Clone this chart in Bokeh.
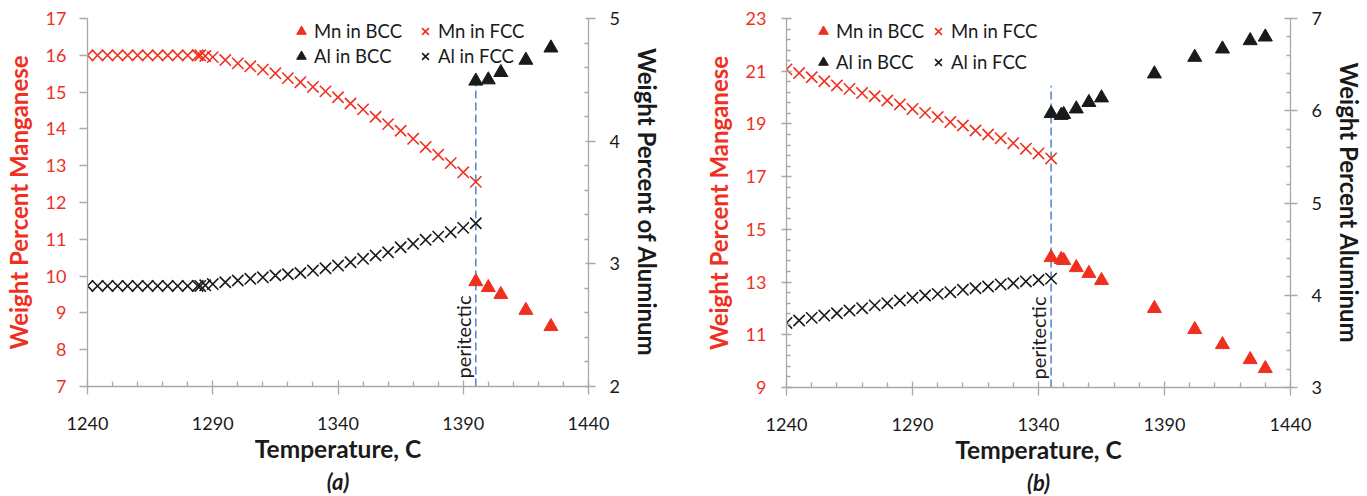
import math
from bokeh.plotting import figure
from bokeh.models import Range1d, LinearAxis, FixedTicker, Legend, LegendItem, Title
from bokeh.layouts import row
from bokeh.embed import file_html
from bokeh.resources import INLINE
from bokeh.core.properties import value

# ---------------- data : panel (a) ----------------
temp_fcc_a = [1240, 1244, 1248, 1252, 1256, 1260, 1264, 1268, 1272, 1276, 1280, 1284,
              1285, 1287, 1290, 1295, 1300, 1305, 1310, 1315, 1320, 1325, 1330, 1335,
              1340, 1345, 1350, 1355, 1360, 1365, 1370, 1375, 1380, 1385, 1390, 1395]
mn_fcc_a = [16.0, 16.0, 16.0, 16.0, 16.0, 16.0, 16.0, 16.0, 16.0, 16.0, 16.0, 16.0,
            16.0, 15.98, 15.95, 15.87, 15.78, 15.70, 15.61, 15.51, 15.38, 15.27, 15.14, 15.02,
            14.86, 14.69, 14.53, 14.33, 14.13, 13.95, 13.73, 13.51, 13.30, 13.07, 12.82, 12.56]
al_fcc_a = [2.82, 2.82, 2.82, 2.82, 2.82, 2.82, 2.82, 2.82, 2.82, 2.82, 2.82, 2.82,
            2.82, 2.825, 2.835, 2.85, 2.864, 2.878, 2.89, 2.905, 2.915, 2.925, 2.945, 2.964,
            2.986, 3.013, 3.041, 3.068, 3.094, 3.135, 3.163, 3.196, 3.222, 3.258, 3.293, 3.331]
temp_bcc_a = [1395, 1400, 1405, 1415, 1425]
mn_bcc_a = [9.85, 9.69, 9.50, 9.07, 8.63]
al_bcc_a = [4.49, 4.50, 4.56, 4.66, 4.76]
peritectic_a = 1395
peritectic_top_a = 4.49

# ---------------- data : panel (b) ----------------
temp_fcc_b = [1240, 1245, 1250, 1255, 1260, 1265, 1270, 1275, 1280, 1285, 1290,
              1295, 1300, 1305, 1310, 1315, 1320, 1325, 1330, 1335, 1340, 1345]
mn_fcc_b = [21.07, 20.93, 20.77, 20.62, 20.46, 20.33, 20.17, 20.05, 19.89, 19.74, 19.57,
            19.42, 19.26, 19.07, 18.94, 18.75, 18.60, 18.46, 18.27, 18.06, 17.88, 17.69]
al_fcc_b = [3.70, 3.726, 3.755, 3.78, 3.805, 3.835, 3.86, 3.89, 3.914, 3.943, 3.972,
            3.997, 4.015, 4.033, 4.059, 4.076, 4.095, 4.117, 4.13, 4.15, 4.165, 4.18]
temp_bcc_b = [1345, 1349, 1350, 1355, 1360, 1365, 1386, 1402, 1413, 1424, 1430]
mn_bcc_b = [13.93, 13.86, 13.82, 13.55, 13.33, 13.06, 12.0, 11.2, 10.63, 10.06, 9.72]
al_bcc_b = [5.97, 5.95, 5.96, 6.02, 6.09, 6.14, 6.40, 6.58, 6.67, 6.76, 6.80]
peritectic_b = 1345
peritectic_top_b = 6.27

# ---------------- axes ----------------
x_ticks = [1240, 1290, 1340, 1390, 1440]
x_minor = [1250, 1260, 1270, 1280, 1300, 1310, 1320, 1330, 1350, 1360, 1370, 1380,
           1400, 1410, 1420, 1430]
mn_ticks_a = [7, 8, 9, 10, 11, 12, 13, 14, 15, 16, 17]
al_ticks_a = [2, 3, 4, 5]
al_minor_a = [2.2, 2.4, 2.6, 2.8, 3.2, 3.4, 3.6, 3.8, 4.2, 4.4, 4.6, 4.8]
mn_ticks_b = [9, 11, 13, 15, 17, 19, 21, 23]
mn_minor_b = [9.4, 9.8, 10.2, 10.6, 11.4, 11.8, 12.2, 12.6, 13.4, 13.8, 14.2, 14.6,
              15.4, 15.8, 16.2, 16.6, 17.4, 17.8, 18.2, 18.6, 19.4, 19.8, 20.2, 20.6,
              21.4, 21.8, 22.2, 22.6]
al_ticks_b = [3, 4, 5, 6, 7]
al_minor_b = [3.2, 3.4, 3.6, 3.8, 4.2, 4.4, 4.6, 4.8, 5.2, 5.4, 5.6, 5.8, 6.2, 6.4, 6.6, 6.8]

FONT = "Lato"
RED = "#f0301f"
BLACK = "#1a1a1a"
GRAY = "#a8a8a8"
BLUE = "#5a88cc"


def style_axis(ax, color, tick_in, tick_out, minor_in, label, label_size, standoff, label_standoff):
    ax.axis_label = label
    ax.axis_label_text_font = FONT
    ax.axis_label_text_font_size = label_size
    ax.axis_label_text_font_style = "bold"
    ax.axis_label_text_color = color
    ax.axis_label_standoff = label_standoff
    ax.major_label_text_font = FONT
    ax.major_label_text_font_size = "18px"
    ax.major_label_text_color = color
    ax.major_label_standoff = standoff
    ax.axis_line_color = GRAY
    ax.axis_line_width = 1.3
    ax.major_tick_line_color = GRAY
    ax.major_tick_line_width = 1.3
    ax.minor_tick_line_color = GRAY if minor_in else None
    ax.minor_tick_line_width = 1.3
    ax.major_tick_in = tick_in
    ax.major_tick_out = tick_out
    ax.minor_tick_in = minor_in
    ax.minor_tick_out = 0


def make_legend(items, loc, spacing):
    return Legend(items=items, orientation="vertical", location=loc,
                  background_fill_alpha=0, border_line_color=None, padding=0, margin=0,
                  spacing=spacing, glyph_width=26, glyph_height=24, label_standoff=0,
                  label_text_font=FONT, label_text_font_size="18.5px",
                  label_text_color=BLACK)


def panel(cfg):
    p = figure(frame_width=cfg["fw"], frame_height=cfg["fh"],
               min_border_left=cfg["bl"], min_border_right=cfg["br"],
               min_border_top=cfg["bt"], min_border_bottom=cfg["bb"],
               x_range=Range1d(1240, 1440), y_range=Range1d(*cfg["mn_range"]),
               output_backend="svg", toolbar_location=None, tools="")
    p.extra_y_ranges = {"al": Range1d(*cfg["al_range"])}
    p.outline_line_color = None
    p.xgrid.visible = False
    p.ygrid.visible = False
    p.background_fill_color = "white"
    p.border_fill_color = "white"

    xa = p.xaxis[0]
    xa.ticker = FixedTicker(ticks=x_ticks, minor_ticks=x_minor)
    style_axis(xa, BLACK, 6, 8, 5, "Temperature, C", "24.5px", 22, 1)

    ya = p.yaxis[0]
    ya.ticker = FixedTicker(ticks=cfg["mn_ticks"], minor_ticks=cfg["mn_minor"])
    style_axis(ya, RED, cfg["l_in"], cfg["l_out"], cfg["l_minor"], "Weight Percent Manganese",
               "24px", cfg["l_standoff"], 10)

    ra = LinearAxis(y_range_name="al", ticker=FixedTicker(ticks=cfg["al_ticks"], minor_ticks=cfg["al_minor"]))
    style_axis(ra, BLACK, cfg["r_in"], 7, 4, cfg["r_label"], "24px", 14, 10)
    p.add_layout(ra, "right")

    # peritectic marker line and label
    p.segment(x0=[cfg["per"]], y0=[cfg["al_range"][0]], x1=[cfg["per"]], y1=[cfg["per_top"]],
              y_range_name="al", line_color=BLUE, line_width=1.6, line_dash="8 4")
    p.text(x=[cfg["per"]], y=[cfg["mn_range"][0]], text=["peritectic"], angle=math.pi / 2,
           x_offset=-13, y_offset=-8, text_align="left", text_baseline="middle",
           text_font=value(FONT), text_font_size="20px", text_color=BLACK)

    r_mn_fcc = p.scatter(cfg["t_fcc"], cfg["mn_fcc"], marker="x", size=16,
                         line_color=RED, line_width=1.6)
    r_al_fcc = p.scatter(cfg["t_fcc"], cfg["al_fcc"], marker="x", size=16, y_range_name="al",
                         line_color=BLACK, line_width=1.6)
    r_mn_bcc = p.scatter(cfg["t_bcc"], cfg["mn_bcc"], marker="triangle", size=14,
                         fill_color=RED, line_color=RED)
    r_al_bcc = p.scatter(cfg["t_bcc"], cfg["al_bcc"], marker="triangle", size=14, y_range_name="al",
                         fill_color=BLACK, line_color=BLACK)

    leg1 = make_legend([LegendItem(label="Mn in BCC", renderers=[r_mn_bcc]),
                        LegendItem(label="Al in BCC", renderers=[r_al_bcc])],
                       cfg["leg1_loc"], cfg["leg_spacing"])
    leg2 = make_legend([LegendItem(label="Mn in FCC", renderers=[r_mn_fcc]),
                        LegendItem(label="Al in FCC", renderers=[r_al_fcc])],
                       cfg["leg2_loc"], cfg["leg_spacing"])
    p.add_layout(leg1)
    p.add_layout(leg2)

    p.add_layout(Title(text=cfg["letter"], align="center", text_font=FONT, text_font_size="22px",
                       text_font_style="bold italic", text_color=BLACK, standoff=0), "below")
    return p


pa = panel(dict(fw=501, fh=368, bl=86, br=96, bt=18, bb=110,
                mn_range=(7, 17), al_range=(2, 5),
                mn_ticks=mn_ticks_a, mn_minor=[], al_ticks=al_ticks_a, al_minor=al_minor_a,
                l_in=0, l_out=8, l_minor=0, l_standoff=13, r_in=3,
                r_label="Weight Percent of Aluminum",
                per=peritectic_a, per_top=peritectic_top_a,
                t_fcc=temp_fcc_a, mn_fcc=mn_fcc_a, al_fcc=al_fcc_a,
                t_bcc=temp_bcc_a, mn_bcc=mn_bcc_a, al_bcc=al_bcc_a,
                leg1_loc=(201, 318), leg2_loc=(325, 318), leg_spacing=1, letter="(a)"))

pb = panel(dict(fw=504, fh=369, bl=102, br=78, bt=18, bb=109,
                mn_range=(9, 23), al_range=(3, 7),
                mn_ticks=mn_ticks_b, mn_minor=mn_minor_b, al_ticks=al_ticks_b, al_minor=al_minor_b,
                l_in=5, l_out=5, l_minor=4, l_standoff=15, r_in=6,
                r_label="Weight Percent Aluminum",
                per=peritectic_b, per_top=peritectic_top_b,
                t_fcc=temp_fcc_b, mn_fcc=mn_fcc_b, al_fcc=al_fcc_b,
                t_bcc=temp_bcc_b, mn_bcc=mn_bcc_b, al_bcc=al_bcc_b,
                leg1_loc=(24, 313), leg2_loc=(139, 313), leg_spacing=7, letter="(b)"))

layout = row(pa, pb)
open("out.html", "w").write(file_html(layout, INLINE))
